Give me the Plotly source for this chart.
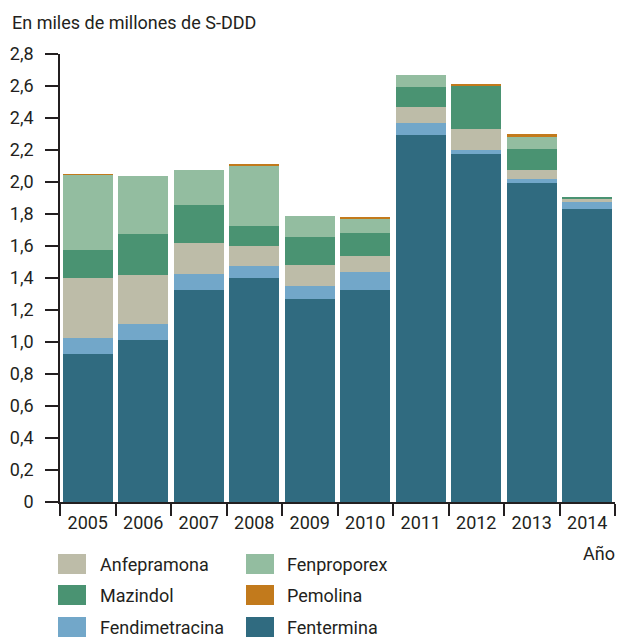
import plotly.graph_objects as go

years = ["2005", "2006", "2007", "2008", "2009", "2010", "2011", "2012", "2013", "2014"]
fentermina = [0.925, 1.01, 1.325, 1.40, 1.27, 1.325, 2.295, 2.175, 1.995, 1.83]
fendimetracina = [0.10, 0.105, 0.10, 0.075, 0.08, 0.1125, 0.075, 0.025, 0.025, 0.045]
anfepramona = [0.375, 0.305, 0.195, 0.125, 0.13, 0.10, 0.10, 0.13, 0.055, 0.02]
mazindol = [0.175, 0.255, 0.235, 0.125, 0.175, 0.145, 0.125, 0.27, 0.13, 0.012]
fenproporex = [0.47, 0.365, 0.22, 0.375, 0.13, 0.0875, 0.075, 0.0, 0.08, 0.0]
pemolina = [0.003, 0.0, 0.0, 0.012, 0.0, 0.006, 0.0, 0.012, 0.012, 0.0]

ytick_vals = [0, 0.2, 0.4, 0.6, 0.8, 1.0, 1.2, 1.4, 1.6, 1.8, 2.0, 2.2, 2.4, 2.6, 2.8]
ytick_text = ["0", "0,2", "0,4", "0,6", "0,8", "1,0", "1,2", "1,4", "1,6", "1,8",
              "2,0", "2,2", "2,4", "2,6", "2,8"]

series = [
    ("Fentermina", fentermina, "#306b80"),
    ("Fendimetracina", fendimetracina, "#72a7c9"),
    ("Anfepramona", anfepramona, "#bdbca8"),
    ("Mazindol", mazindol, "#4a9372"),
    ("Fenproporex", fenproporex, "#93bda0"),
    ("Pemolina", pemolina, "#c27a1c"),
]
colors = {n: c for n, _, c in series}

FONT = "Roboto, Liberation Sans, sans-serif"
TXT = "#231f20"

fig = go.Figure()
for name, vals, col in series:
    fig.add_trace(go.Bar(x=years, y=vals, name=name, marker=dict(color=col, line=dict(width=0)),
                         showlegend=False))

W, H = 618, 637
L, R, T, B = 60, 3, 54, 135
pw, ph = W - L - R, H - T - B

def px(x):
    return (x - L) / pw

def py(y):
    return (H - B - y) / ph

shapes = []
annotations = []
legend_rows = [("Anfepramona", "Fenproporex"), ("Mazindol", "Pemolina"), ("Fendimetracina", "Fentermina")]
row_y = [564, 595, 627]
col_sw = [(58, 86, 98), (246, 274, 285)]
for r, row in enumerate(legend_rows):
    for c, name in enumerate(row):
        x0, x1, xt = col_sw[c]
        yc = row_y[r]
        shapes.append(dict(type="rect", xref="paper", yref="paper",
                           x0=px(x0), x1=px(x1), y0=py(yc + 10), y1=py(yc - 10),
                           fillcolor=colors[name], line=dict(width=0)))
        annotations.append(dict(text=name, xref="paper", yref="paper", x=px(xt), y=py(yc),
                                xanchor="left", yanchor="middle", showarrow=False,
                                font=dict(size=18, color=TXT, family=FONT)))

annotations.append(dict(text="Año", xref="paper", yref="paper", x=px(617), y=py(553),
                        xanchor="right", yanchor="middle", showarrow=False,
                        font=dict(size=18, color=TXT, family=FONT)))
annotations.append(dict(text="En miles de millones de S-DDD", xref="paper", yref="paper",
                        x=px(10), y=py(22), xanchor="left", yanchor="middle", showarrow=False,
                        font=dict(size=18, color=TXT, family=FONT)))

fig.update_layout(
    width=W, height=H,
    margin=dict(l=L, r=R, t=T, b=B, pad=0),
    barmode="stack", bargap=0.1,
    plot_bgcolor="white", paper_bgcolor="white",
    font=dict(family=FONT, size=18, color=TXT),
    shapes=shapes, annotations=annotations,
    xaxis=dict(type="category", range=[-0.5, 9.5], tickson="boundaries", ticks="outside",
               ticklen=12, tickwidth=1.5, tickcolor=TXT, showline=True, linecolor=TXT,
               linewidth=1.5, showgrid=False, zeroline=False, ticklabelstandoff=4,
               tickfont=dict(size=18, color=TXT, family=FONT)),
    yaxis=dict(range=[0, 2.8], tickvals=ytick_vals, ticktext=ytick_text, ticks="outside",
               ticklen=13, tickwidth=1.5, tickcolor=TXT, showline=True, linecolor=TXT,
               linewidth=1.5, showgrid=False, zeroline=False, ticklabelstandoff=8,
               tickfont=dict(size=18, color=TXT, family=FONT)),
)

fig.write_html("out.html", config={"displayModeBar": False},
               post_script="document.body.style.margin='0px';document.body.style.overflow='hidden';")
